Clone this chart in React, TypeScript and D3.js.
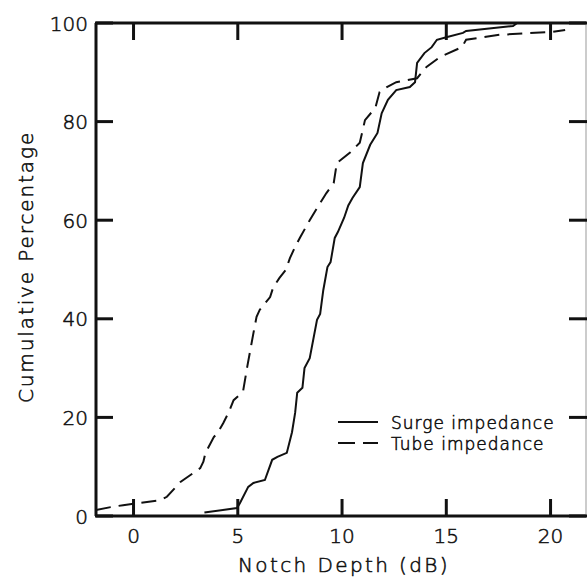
import React from "react";
import * as d3 from "d3";

const surgeX = [3.4, 4.96, 5.1, 5.5, 5.75, 6.3, 6.65, 6.9, 7.35, 7.6, 7.75, 7.85, 8.1, 8.2, 8.45, 8.8, 8.95, 9.1, 9.3, 9.45, 9.65, 9.8, 10.1, 10.3, 10.5, 10.85, 11.0, 11.35, 11.7, 11.9, 12.2, 12.6, 13.25, 13.5, 13.6, 13.95, 14.3, 14.55, 15.0, 15.8, 15.95, 18.2, 18.4, 21.7];
const surgeY = [0.7, 1.6, 2.6, 5.9, 6.7, 7.3, 11.4, 12.0, 12.8, 17.0, 20.9, 25.0, 26.0, 30.0, 32.0, 39.8, 41.0, 45.8, 50.5, 51.5, 56.4, 57.6, 60.5, 63.0, 64.5, 66.7, 71.6, 75.3, 77.7, 81.7, 84.4, 86.4, 87.0, 88.0, 91.9, 93.9, 95.1, 96.6, 97.1, 98.0, 98.4, 99.4, 100, 100];

const tubeX = [-1.8, -1.1, -0.5, 1.3, 1.6, 2.25, 3.2, 3.35, 3.45, 3.85, 4.05, 4.3, 4.55, 4.8, 5.25, 5.45, 5.75, 5.9, 6.05, 6.55, 6.7, 7.0, 7.3, 7.5, 7.75, 8.0, 8.45, 8.95, 9.25, 9.6, 9.75, 10.4, 10.85, 11.1, 11.6, 11.8, 12.15, 12.6, 13.6, 14.05, 14.7, 15.75, 15.95, 17.55, 20.1, 20.7];
const tubeY = [1.2, 1.8, 2.2, 3.2, 3.9, 6.9, 9.7, 11.0, 12.8, 16.0, 17.0, 18.8, 20.9, 23.5, 25.2, 30.2, 37.1, 40.4, 41.8, 44.4, 46.4, 48.3, 49.9, 52.3, 54.6, 56.6, 60.0, 63.5, 65.5, 67.5, 71.6, 73.8, 75.7, 80.3, 82.8, 86.0, 87.0, 88.0, 88.8, 91.1, 93.1, 95.1, 96.6, 97.6, 98.2, 98.6];

const xTicks = [0, 5, 10, 15, 20];
const yTicks = [0, 20, 40, 60, 80, 100];
const seriesNames = ["Surge impedance", "Tube impedance"];

const W = 587, H = 577;
const L = 96, R = 586, T = 23, B = 516;
const FONT = "'DejaVu Sans', sans-serif";

export default function App() {
  const x = d3.scaleLinear().domain([-1.8, 21.7]).range([L, R]);
  const y = d3.scaleLinear().domain([0, 100]).range([B, T]);
  const line = d3.line<[number, number]>().x(d => x(d[0])).y(d => y(d[1]));
  const surge = line(surgeX.map((v, i) => [v, surgeY[i]]) as [number, number][]) || "";
  const tube = line(tubeX.map((v, i) => [v, tubeY[i]]) as [number, number][]) || "";
  const tl = 17;
  return (
    <svg width={W} height={H} style={{ position: "absolute", left: 0, top: 0, background: "#fff" }}>
      <defs>
        <clipPath id="plot">
          <rect x={L} y={T} width={R - L} height={B - T} />
        </clipPath>
      </defs>
      <g clipPath="url(#plot)" fill="none" stroke="#111" strokeWidth={2}>
        <path d={surge} />
        <path d={tube} strokeDasharray="15,8" />
      </g>
      <line x1={L} x2={L} y1={T} y2={B} stroke="#111" strokeWidth={3} />
      <line x1={L - 1} x2={R} y1={B} y2={B} stroke="#111" strokeWidth={3} />
      <line x1={L - 1} x2={R} y1={T} y2={T} stroke="#111" strokeWidth={3} />
      <line x1={R} x2={R} y1={T} y2={B} stroke="#999" strokeWidth={1} />
      <g stroke="#111" strokeWidth={3}>
        {xTicks.map(t => (
          <g key={"x" + t}>
            <line x1={x(t)} x2={x(t)} y1={B} y2={B - tl} />
            <line x1={x(t)} x2={x(t)} y1={T} y2={T + tl} />
          </g>
        ))}
        {yTicks.map(t => (
          <g key={"y" + t}>
            <line x1={L} x2={L + tl} y1={y(t)} y2={y(t)} />
            <line x1={R - tl} x2={R + 2} y1={y(t)} y2={y(t)} />
          </g>
        ))}
      </g>
      <g fontFamily={FONT} fontWeight={200} fill="#111" stroke="#111" strokeWidth={0.55}>
        {xTicks.map(t => (
          <text key={"xl" + t} x={x(t)} y={543} textAnchor="middle" fontSize={20}>{t}</text>
        ))}
        {yTicks.map(t => (
          <text key={"yl" + t} x={88} y={y(t) + 7.5} textAnchor="end" fontSize={20}>{t}</text>
        ))}
        <text x={344} y={572} textAnchor="middle" fontSize={20} letterSpacing={2.4}>Notch Depth (dB)</text>
        <text transform={`translate(33,267) rotate(-90)`} textAnchor="middle" fontSize={20} letterSpacing={1.9}>Cumulative Percentage</text>
        <text x={391} y={429} fontSize={17} letterSpacing={1}>{seriesNames[0]}</text>
        <text x={391} y={450} fontSize={17} letterSpacing={1}>{seriesNames[1]}</text>
      </g>
      <line x1={338} x2={378} y1={422} y2={422} stroke="#111" strokeWidth={2} />
      <line x1={338} x2={378} y1={443} y2={443} stroke="#111" strokeWidth={2} strokeDasharray="17,8" />
    </svg>
  );
}
